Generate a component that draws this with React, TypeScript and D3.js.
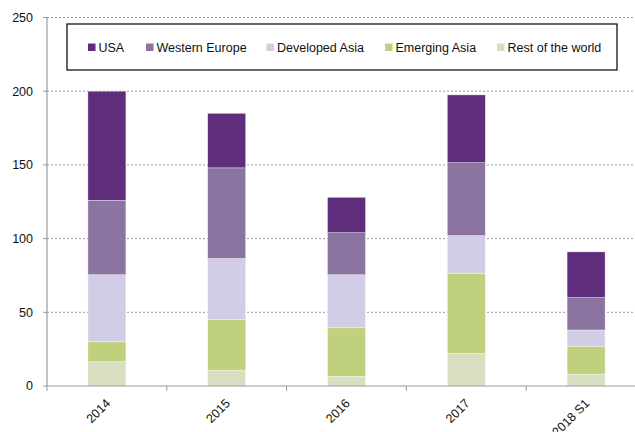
import React from "react";
import * as d3 from "d3";

const categories = ["2014", "2015", "2016", "2017", "2018 S1"];
const seriesNames = ["Rest of the world", "Emerging Asia", "Developed Asia", "Western Europe", "USA"];
const restOfWorld = [16.5, 10.5, 6.5, 22, 8];
const emergingAsia = [13.5, 34.5, 33, 54.5, 19];
const developedAsia = [45.5, 41.5, 36, 25.5, 11];
const westernEurope = [50.5, 61.5, 28.5, 49.5, 22];
const usa = [74, 37, 24, 46, 31];
const yTicks = [0, 50, 100, 150, 200, 250];
const legendOrder = ["USA", "Western Europe", "Developed Asia", "Emerging Asia", "Rest of the world"];

const colors: Record<string, string> = {
  USA: "#5e2d7c",
  "Western Europe": "#8b75a0",
  "Developed Asia": "#d1cde6",
  "Emerging Asia": "#bfd17c",
  "Rest of the world": "#d7dfc0",
};

const W = 635;
const H = 432;
const left = 47;
const top = 17.5;
const bottom = 386;
const band = 119.8;

export default function App() {
  const rows = categories.map((c, i) => ({
    cat: c,
    "Rest of the world": restOfWorld[i],
    "Emerging Asia": emergingAsia[i],
    "Developed Asia": developedAsia[i],
    "Western Europe": westernEurope[i],
    USA: usa[i],
  }));
  const stack = d3.stack<any>().keys(seriesNames)(rows);
  const x = d3
    .scaleBand<string>()
    .domain(categories)
    .range([left, left + band * categories.length])
    .paddingInner(0)
    .paddingOuter(0);
  const y = d3.scaleLinear().domain([0, 250]).range([bottom, top]);
  const barW = 38;
  const font = "'Liberation Sans', Arial, sans-serif";

  const legendX = [88, 146, 266.5, 385, 497];

  return (
    <svg
      width={W}
      height={H}
      style={{ position: "absolute", left: 0, top: 0, background: "#fff" }}
      fontFamily={font}
    >
      {/* gridlines */}
      {yTicks.filter((t) => t > 0).map((t) => (
        <line
          key={"g" + t}
          x1={left}
          x2={W}
          y1={y(t)}
          y2={y(t)}
          stroke="#9a9a9a"
          strokeWidth={1}
          strokeDasharray="2,2"
        />
      ))}
      {/* bars */}
      {stack.map((s) =>
        s.map((d, i) => (
          <rect
            key={s.key + i}
            x={(x(categories[i]) as number) + x.bandwidth() / 2 - barW / 2}
            width={barW}
            y={y(d[1])}
            height={y(d[0]) - y(d[1])}
            fill={colors[s.key]}
            stroke="#ffffff"
            strokeOpacity={0.6}
            strokeWidth={0.6}
          />
        ))
      )}
      {/* y axis */}
      <line x1={left} x2={left} y1={top} y2={bottom} stroke="#999" strokeWidth={1.2} />
      {yTicks.map((t) => (
        <g key={"y" + t}>
          <line x1={left - 4} x2={left} y1={y(t)} y2={y(t)} stroke="#999" strokeWidth={1} />
          <text
            x={33}
            y={y(t)}
            dy="0.35em"
            textAnchor="end"
            fontSize={12.5}
            fill="#111"
          >
            {t}
          </text>
        </g>
      ))}
      {/* x axis */}
      <line x1={left} x2={W} y1={bottom} y2={bottom} stroke="#999" strokeWidth={1.2} />
      {categories.map((c, i) => (
        <line
          key={"xt" + i}
          x1={(x(c) as number)}
          x2={(x(c) as number)}
          y1={bottom}
          y2={bottom + 5}
          stroke="#999"
          strokeWidth={1}
        />
      ))}
      {categories.map((c) => {
        const cx = (x(c) as number) + x.bandwidth() / 2 - 2;
        const cy = bottom + 12;
        return (
          <text
            key={"xl" + c}
            transform={`translate(${cx},${cy}) rotate(-45)`}
            textAnchor="end"
            dy="0.7em"
            fontSize={12.5}
            fill="#111"
          >
            {c}
          </text>
        );
      })}
      {/* legend */}
      <rect x={67} y={24} width={550} height={46} fill="#fff" stroke="#000" strokeWidth={1.2} />
      {legendOrder.map((k, i) => (
        <g key={"lg" + k}>
          <rect x={legendX[i]} y={43.5} width={7.5} height={7.5} fill={colors[k]} />
          <text x={legendX[i] + 10.5} y={52} fontSize={12.5} fill="#111">
            {k}
          </text>
        </g>
      ))}
    </svg>
  );
}
